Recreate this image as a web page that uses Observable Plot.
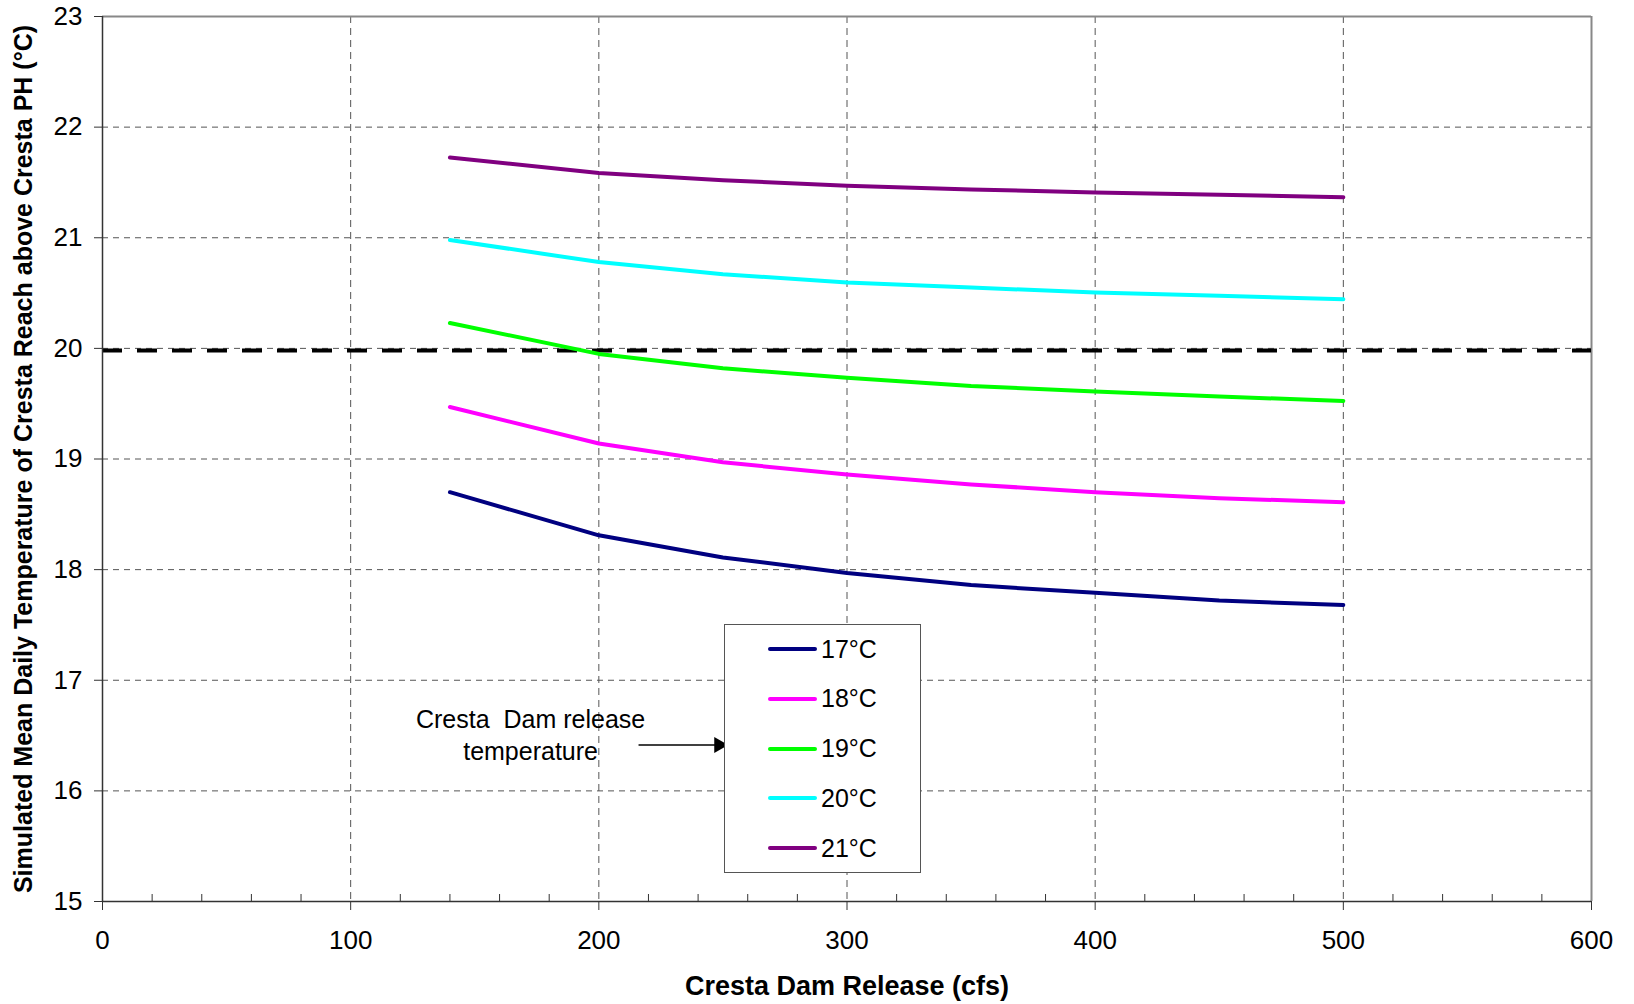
<!DOCTYPE html>
<html>
<head>
<meta charset="utf-8">
<script src="https://cdn.jsdelivr.net/npm/d3@7"></script>
<script src="https://cdn.jsdelivr.net/npm/@observablehq/plot@0.6"></script>
<style>
  html, body { margin: 0; padding: 0; background: #fff; }
  #wrap { position: relative; width: 1634px; height: 1004px; font-family: "Liberation Sans", Arial, sans-serif; }
  #legend { position: absolute; left: 724px; top: 624px; width: 197px; height: 249px; border: 1.5px solid #555; background: #fff; box-sizing: border-box; }
  .row { position: absolute; left: 0; height: 30px; display: flex; align-items: center; }
  .sw { width: 49px; height: 4px; border-radius: 2px; margin-left: 43px; }
  .lab { font-size: 25px; color: #000; margin-left: 4px; }
</style>
</head>
<body>
<div id="wrap"></div>
<script>
// ---- data ----
const releases = [140, 200, 250, 300, 350, 400, 450, 500];
const seriesNames = ["17°C", "18°C", "19°C", "20°C", "21°C"];
const seriesColors = ["#000080", "#FF00FF", "#00FF00", "#00FFFF", "#800080"];
const t17 = [18.70, 18.31, 18.11, 17.97, 17.86, 17.79, 17.72, 17.68];
const t18 = [19.47, 19.14, 18.97, 18.86, 18.77, 18.70, 18.645, 18.61];
const t19 = [20.23, 19.95, 19.82, 19.735, 19.66, 19.61, 19.565, 19.525];
const t20 = [20.98, 20.78, 20.67, 20.595, 20.55, 20.505, 20.475, 20.445];
const t21 = [21.725, 21.585, 21.52, 21.47, 21.436, 21.41, 21.388, 21.367];
const threshold = 19.98;
const xTicks = [0, 100, 200, 300, 400, 500, 600];
const xMinorTicks = d3.range(0, 601, 20).filter(v => v % 100 !== 0);
const yTicks = [15, 16, 17, 18, 19, 20, 21, 22, 23];
const xLabel = "Cresta Dam Release (cfs)";
const yLabel = "Simulated Mean Daily Temperature of Cresta Reach above Cresta PH (°C)";
const noteText = "Cresta\u00a0 Dam release\ntemperature";
const note = {x: 172.5, y: 16.52};
const noteArrow = {x1: 216, x2: 250, y: 16.415};

const seriesValues = [t17, t18, t19, t20, t21];
const rows = seriesNames.flatMap((s, i) => releases.map((x, j) => ({x, y: seriesValues[i][j], series: s})));

const chart = Plot.plot({
  width: 1634,
  height: 1004,
  marginLeft: 102,
  marginRight: 43,
  marginTop: 16,
  marginBottom: 103,
  style: {fontFamily: "'Liberation Sans', Arial, sans-serif", fontSize: "26px", background: "#fff", color: "#000"},
  x: {domain: [0, 600]},
  y: {domain: [15, 23]},
  color: {domain: seriesNames, range: seriesColors},
  marks: [
    Plot.gridX(xTicks.filter(v => v > 0 && v < 600), {stroke: "#555", strokeOpacity: 1, strokeWidth: 1, strokeDasharray: "7,5"}),
    Plot.gridY(yTicks.filter(v => v > 15 && v < 23), {stroke: "#555", strokeOpacity: 1, strokeWidth: 1, strokeDasharray: "6,5"}),
    Plot.ruleY([23], {stroke: "#888", strokeWidth: 2}),
    Plot.ruleX([600], {stroke: "#888", strokeWidth: 2}),
    Plot.ruleY([threshold], {stroke: "#000", strokeWidth: 4, strokeDasharray: "20,15"}),
    Plot.line(rows, {x: "x", y: "y", z: "series", stroke: "series", strokeWidth: 4, strokeLinecap: "round", strokeLinejoin: "round"}),
    Plot.ruleX([0], {stroke: "#333", strokeWidth: 1.5}),
    Plot.ruleY([15], {stroke: "#333", strokeWidth: 1.5}),
    Plot.axisX(xTicks, {anchor: "bottom", tickSize: 9, tickPadding: 20, stroke: "#333", label: null, fontSize: 26, tickFormat: d3.format("d")}),
    Plot.axisX(xMinorTicks, {anchor: "bottom", tickSize: 7, dy: -7, stroke: "#333", fill: "none", label: null}),
    Plot.axisY(yTicks, {anchor: "left", tickSize: 8, tickPadding: 12, stroke: "#333", label: null, fontSize: 26, tickFormat: d3.format("d")}),
    Plot.text([xLabel], {text: d => d, frameAnchor: "bottom", dy: 93, fontWeight: "bold", fontSize: 27}),
    Plot.text([yLabel], {text: d => d, frameAnchor: "left", textAnchor: "middle", rotate: -90, dx: -79, fontWeight: "bold", fontSize: 25}),
    Plot.text([note], {x: "x", y: "y", text: () => noteText, fontSize: 25, lineHeight: 1.3}),
    Plot.link([noteArrow], {x1: "x1", x2: "x2", y1: "y", y2: "y", stroke: "#000", strokeWidth: 1.5}),
    Plot.dot([noteArrow], {x: "x2", y: "y", symbol: "triangle", rotate: 90, r: 6, fill: "#000", dx: -4})
  ]
});

const wrap = document.getElementById("wrap");
wrap.appendChild(chart);

const legend = document.createElement("div");
legend.id = "legend";
seriesNames.forEach((s, i) => {
  const row = document.createElement("div");
  row.className = "row";
  row.style.top = (9 + i * 49.8) + "px";
  const sw = document.createElement("div");
  sw.className = "sw";
  sw.style.background = seriesColors[i];
  const lab = document.createElement("span");
  lab.className = "lab";
  lab.textContent = s;
  row.appendChild(sw);
  row.appendChild(lab);
  legend.appendChild(row);
});
wrap.appendChild(legend);
</script>
</body>
</html>
